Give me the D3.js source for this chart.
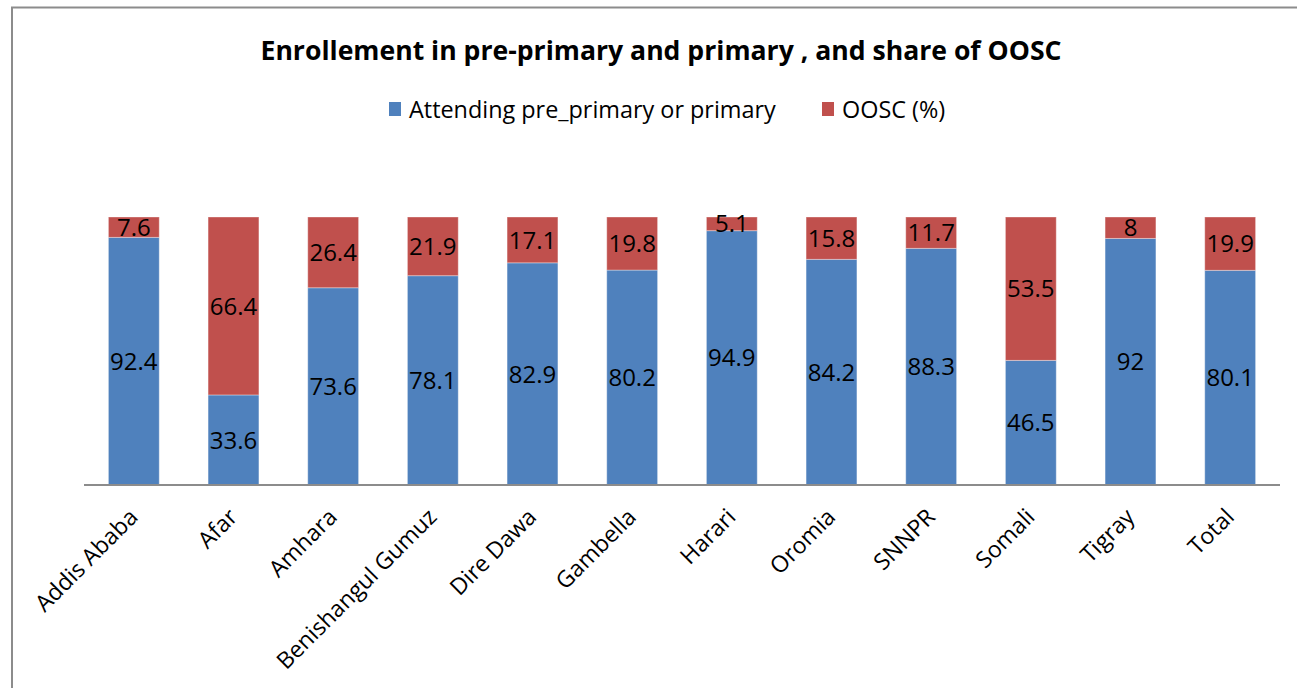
<!DOCTYPE html>
<html>
<head>
<meta charset="utf-8">
<script src="https://cdn.jsdelivr.net/npm/d3@7"></script>
<style>
  html, body { margin: 0; padding: 0; background: #fff; }
  svg { display: block; }
  text { font-family: "Open Sans", Lato, "DejaVu Sans", sans-serif; fill: #000; }
</style>
</head>
<body>
<svg id="chart" width="1297" height="688"></svg>
<script>
// Regions and their enrolment shares (percent)
const regions = ["Addis Ababa", "Afar", "Amhara", "Benishangul Gumuz", "Dire Dawa",
  "Gambella", "Harari", "Oromia", "SNNPR", "Somali", "Tigray", "Total"];
const attending = [92.4, 33.6, 73.6, 78.1, 82.9, 80.2, 94.9, 84.2, 88.3, 46.5, 92, 80.1];
const oosc = [7.6, 66.4, 26.4, 21.9, 17.1, 19.8, 5.1, 15.8, 11.7, 53.5, 8, 19.9];
const seriesNames = ["Attending pre_primary or primary", "OOSC (%)"];
const seriesColors = ["#4F81BD", "#C0504D"];

const svg = d3.select("#chart");
const W = 1297, H = 688;

// Frame around the chart area
svg.append("path")
  .attr("d", `M12,${H} L12,7.5 L${W},7.5`)
  .attr("fill", "none")
  .attr("stroke", "#8c8c8c")
  .attr("stroke-width", 2);

// Title
svg.append("text")
  .attr("x", 661).attr("y", 60)
  .attr("text-anchor", "middle")
  .style("font-size", "26.6px")
  .style("font-weight", "bold")
  .text("Enrollement in pre-primary and primary , and share of OOSC");

// Plot scales
const plot = { left: 84, right: 1280, top: 217, bottom: 485 };
const x = d3.scaleBand().domain(regions).range([plot.left, plot.right]).paddingInner(0.49).paddingOuter(0.245);
const y = d3.scaleLinear().domain([0, 100]).range([plot.bottom, plot.top]);

const rows = regions.map((r, i) => ({ region: r, attending: attending[i], oosc: oosc[i] }));
const stack = d3.stack().keys(["attending", "oosc"])(rows);

const layers = svg.append("g").selectAll("g")
  .data(stack).join("g")
  .attr("fill", (d, i) => seriesColors[i]);

layers.selectAll("rect")
  .data(d => d).join("rect")
  .attr("x", d => x(d.data.region))
  .attr("width", x.bandwidth())
  .attr("y", d => y(d[1]))
  .attr("height", d => y(d[0]) - y(d[1]))
  .attr("stroke", "rgba(255,255,255,0.35)")
  .attr("stroke-width", 1);

// Value labels centred in each segment
layers.selectAll("text")
  .data((d, i) => d.map(v => ({ v, key: stack[i].key })))
  .join("text")
  .attr("x", d => x(d.v.data.region) + x.bandwidth() / 2)
  .attr("y", d => (y(d.v[0]) + y(d.v[1])) / 2)
  .attr("dy", "0.36em")
  .attr("text-anchor", "middle")
  .style("font-size", "24px")
  .text(d => d.v.data[d.key]);

// Category axis
const xAxis = svg.append("g")
  .attr("transform", `translate(0,${plot.bottom})`)
  .call(d3.axisBottom(x).tickSize(0).tickPadding(0));
xAxis.select(".domain").attr("stroke", "#8c8c8c").attr("stroke-width", 2)
  .attr("d", `M${plot.left},0H${plot.right}`);
xAxis.selectAll(".tick text")
  .style("font-size", "23px")
  .style("font-family", "'Open Sans', Lato, sans-serif")
  .attr("fill", "#000")
  .attr("text-anchor", "end")
  .attr("transform", "translate(-6,22) rotate(-45)")
  .attr("dy", "0.7em");

// Legend
const legend = svg.append("g");
const legendPos = [389, 822];
seriesNames.forEach((name, i) => {
  legend.append("rect")
    .attr("x", legendPos[i]).attr("y", 102)
    .attr("width", 12).attr("height", 14)
    .attr("fill", seriesColors[i]);
  legend.append("text")
    .attr("x", legendPos[i] + 20).attr("y", 110)
    .attr("dy", "0.36em")
    .style("font-size", "23.4px")
    .text(name);
});
</script>
</body>
</html>
